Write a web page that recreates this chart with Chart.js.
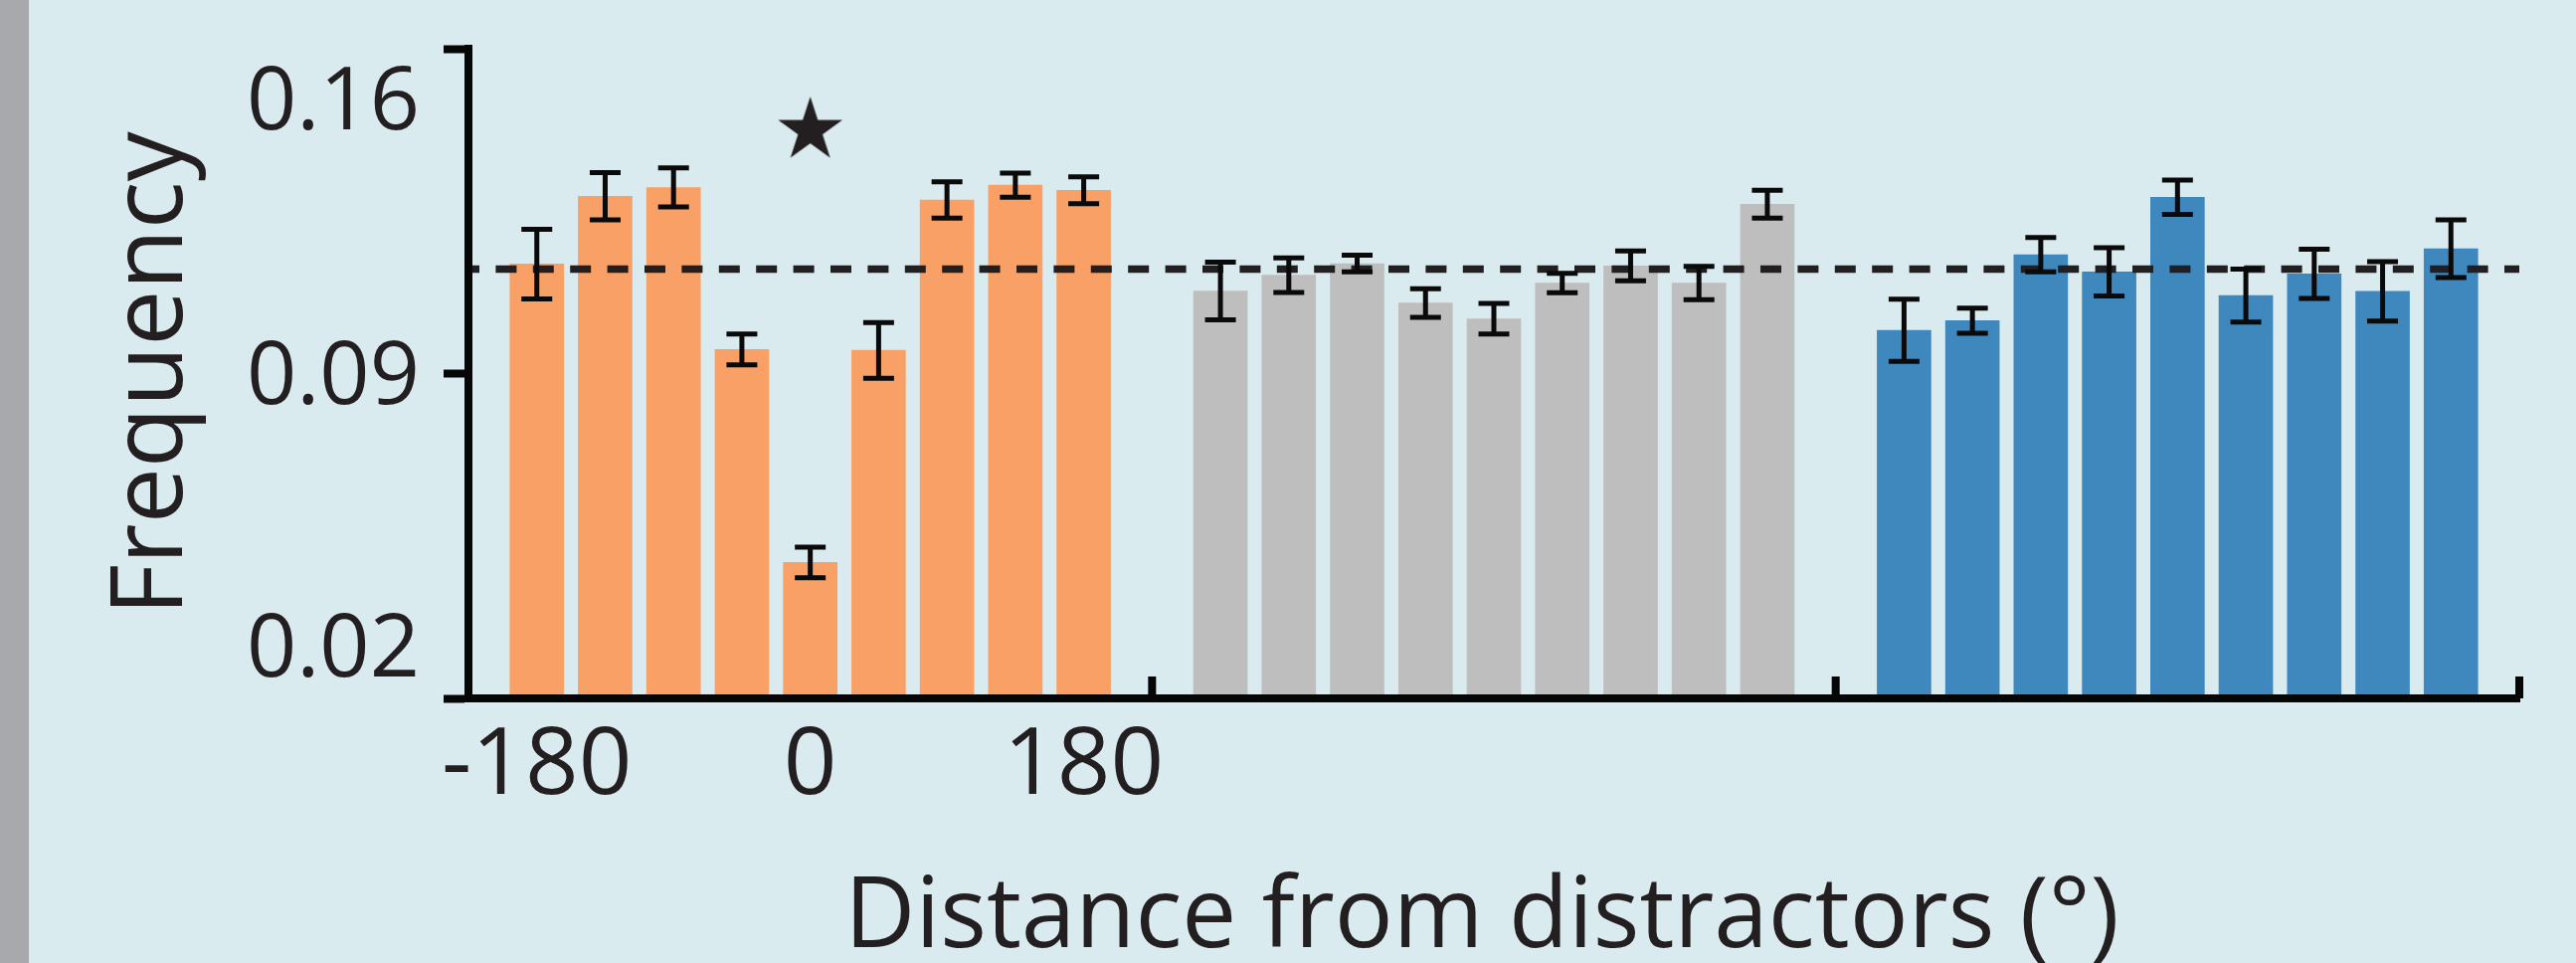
<!DOCTYPE html>
<html>
<head>
<meta charset="utf-8">
<script src="https://cdn.jsdelivr.net/npm/chart.js@4/dist/chart.umd.min.js"></script>
<style>
  html, body { margin: 0; padding: 0; background: #daebef; }
  #wrap { position: relative; width: 2590px; height: 968px; overflow: hidden; }
  #strip { position: absolute; left: 0; top: 0; width: 29px; height: 968px; background: #a7a9ad; }
  #freqChart { position: absolute; left: 0; top: 0; }
</style>
</head>
<body>
<div id="wrap">
  <div id="strip"></div>
  <canvas id="freqChart" width="2590" height="968"></canvas>
</div>
<script>
/* ====== 数据 ====== */
const orangeVals = [0.1136, 0.1282, 0.1301, 0.0952, 0.0493, 0.0950, 0.1274, 0.1306, 0.1295];
const orangeErr = [0.0075, 0.0051, 0.0042, 0.0033, 0.0033, 0.0060, 0.0039, 0.0026, 0.0029];
const grayVals = [0.1078, 0.1112, 0.1137, 0.1052, 0.1018, 0.1095, 0.1132, 0.1095, 0.1265];
const grayErr = [0.0062, 0.0037, 0.0018, 0.0031, 0.0033, 0.0021, 0.0032, 0.0036, 0.0030];
const blueVals = [0.0993, 0.1014, 0.1156, 0.1119, 0.1280, 0.1068, 0.1115, 0.1077, 0.1169];
const blueErr = [0.0067, 0.0027, 0.0037, 0.0052, 0.0037, 0.0057, 0.0053, 0.0064, 0.0062];

const chanceLevel = 0.1125;
const starBin = 4; // 显著性星号所在的柱（0°）
const starValue = 0.1424;

const yTicks = [0.02, 0.09, 0.16];
const yTickLabels = ["0.02", "0.09", "0.16"];
const xTickBins = [0, 4, 8];
const xTickLabels = ["-180", "0", "180"];
const xTitle = "Distance from distractors (°)";
const yTitle = "Frequency";

/* ====== 样式 ====== */
const INK = "#231f20";
const AXIS = "#060606";
const FONT = '"Open Sans", "Noto Sans", sans-serif';
const GROUP = 10; // 每组 9 根柱 + 两侧各半格空隙

// 每组柱子放到线性 x 轴上：组 g 的第 i 根在 g*10 + i + 1
const toPts = (vals, g) => vals.map((y, i) => ({ x: g * GROUP + i + 1, y }));

// 实心五角星作为点样式
function makeStar(r) {
  const c = document.createElement("canvas");
  c.width = c.height = Math.ceil(r * 2 + 4);
  const ctx = c.getContext("2d");
  const cx = c.width / 2, cy = c.height / 2;
  ctx.beginPath();
  for (let k = 0; k < 10; k++) {
    const rad = k % 2 ? r * 0.382 : r;
    const a = -Math.PI / 2 + (k * Math.PI) / 5;
    ctx.lineTo(cx + rad * Math.cos(a), cy + rad * Math.sin(a));
  }
  ctx.closePath();
  ctx.fillStyle = INK;
  ctx.fill();
  return c;
}

/* ====== 误差线 ====== */
const errorBars = {
  id: "errorBars",
  afterDatasetsDraw(chart) {
    const { ctx } = chart;
    const y = chart.scales.y;
    ctx.save();
    ctx.setLineDash([]);
    ctx.strokeStyle = "#0a0a0a";
    ctx.lineWidth = 5;
    chart.data.datasets.forEach((ds, di) => {
      if (!ds.err) return;
      chart.getDatasetMeta(di).data.forEach((bar, i) => {
        const v = ds.data[i].y, e = ds.err[i];
        const top = y.getPixelForValue(v + e);
        const bot = y.getPixelForValue(v - e);
        ctx.beginPath();
        ctx.moveTo(bar.x, top); ctx.lineTo(bar.x, bot);
        ctx.moveTo(bar.x - 15.5, top); ctx.lineTo(bar.x + 15.5, top);
        ctx.moveTo(bar.x - 15.5, bot); ctx.lineTo(bar.x + 15.5, bot);
        ctx.stroke();
      });
    });
    ctx.restore();
  },
};

/* ====== 坐标文字 + x 轴内刻度 ====== */
const axisText = {
  id: "axisText",
  afterDraw(chart) {
    const { ctx, chartArea: area } = chart;
    const { x, y } = chart.scales;
    ctx.save();

    // x 轴分组处的向上小刻度
    ctx.fillStyle = AXIS;
    for (let g = 0; g <= 3; g++) {
      const px = x.getPixelForValue(g * GROUP);
      ctx.fillRect(px - 4, area.bottom - 22, 8, 22);
    }

    ctx.fillStyle = INK;
    // y 刻度标签：最上面的往下收，最下面的往上收
    ctx.font = `88px ${FONT}`;
    ctx.textAlign = "right";
    ctx.textBaseline = "alphabetic";
    yTicks.forEach((v, i) => {
      const p = y.getPixelForValue(v);
      let base = p + 30;
      if (i === 0) base = p - 22;
      if (i === yTicks.length - 1) base = p + 81;
      ctx.fillText(yTickLabels[i], area.left - 49, base);
    });

    // x 刻度标签（仅第一组）
    ctx.font = `94px ${FONT}`;
    ctx.textAlign = "center";
    xTickBins.forEach((b, i) => {
      ctx.fillText(xTickLabels[i], x.getPixelForValue(b + 1), area.bottom + 96);
    });

    // 轴标题
    ctx.font = `98px ${FONT}`;
    ctx.fillText(xTitle, (area.left + area.right) / 2 - 12, area.bottom + 250);

    ctx.font = `100px ${FONT}`;
    ctx.translate(area.left - 288, (area.top + area.bottom) / 2);
    ctx.rotate(-Math.PI / 2);
    ctx.fillText(yTitle, 0, 0);
    ctx.restore();
  },
};

/* ====== Chart ====== */
function createChart() {
  const ctx = document.getElementById("freqChart").getContext("2d");
  return new Chart(ctx, {
    type: "bar",
    data: {
      datasets: [
        { data: toPts(orangeVals, 0), err: orangeErr, backgroundColor: "#f9a066" },
        { data: toPts(grayVals, 1), err: grayErr, backgroundColor: "#bebebe" },
        { data: toPts(blueVals, 2), err: blueErr, backgroundColor: "#3e88be" },
        {
          type: "line",
          data: [{ x: 0, y: chanceLevel }, { x: 3 * GROUP, y: chanceLevel }],
          borderColor: INK,
          borderWidth: 7.5,
          borderDash: [21, 16.4],
          borderDashOffset: 10,
          pointRadius: 0,
          order: -1,
        },
        {
          type: "line",
          data: [{ x: starBin + 1, y: starValue }],
          showLine: false,
          pointStyle: makeStar(34),
          order: -2,
        },
      ],
    },
    options: {
      responsive: false,
      animation: false,
      devicePixelRatio: 1,
      layout: { padding: { top: 49, right: 57, left: 0, bottom: 0 } },
      datasets: { bar: { barThickness: 54, grouped: false, borderWidth: 0 } },
      plugins: { legend: { display: false }, tooltip: { enabled: false } },
      scales: {
        x: {
          type: "linear",
          offset: false,
          min: 0,
          max: 3 * GROUP,
          grid: { display: false, offset: false },
          border: { display: true, color: AXIS, width: 8, z: 1 }, // 轴线压在柱子上面
          ticks: { display: false },
          afterFit: (s) => { s.height = 266; },
        },
        y: {
          min: yTicks[0],
          max: yTicks[yTicks.length - 1],
          afterBuildTicks: (s) => { s.ticks = yTicks.map((v) => ({ value: v })); },
          grid: { drawOnChartArea: false, drawTicks: true, tickLength: 25, tickWidth: 8, tickColor: AXIS },
          border: { display: true, color: AXIS, width: 8, z: 1 },
          ticks: { display: false },
          afterFit: (s) => { s.width = 471; },
        },
      },
    },
    plugins: [errorBars, axisText],
  });
}

createChart();
</script>
</body>
</html>
